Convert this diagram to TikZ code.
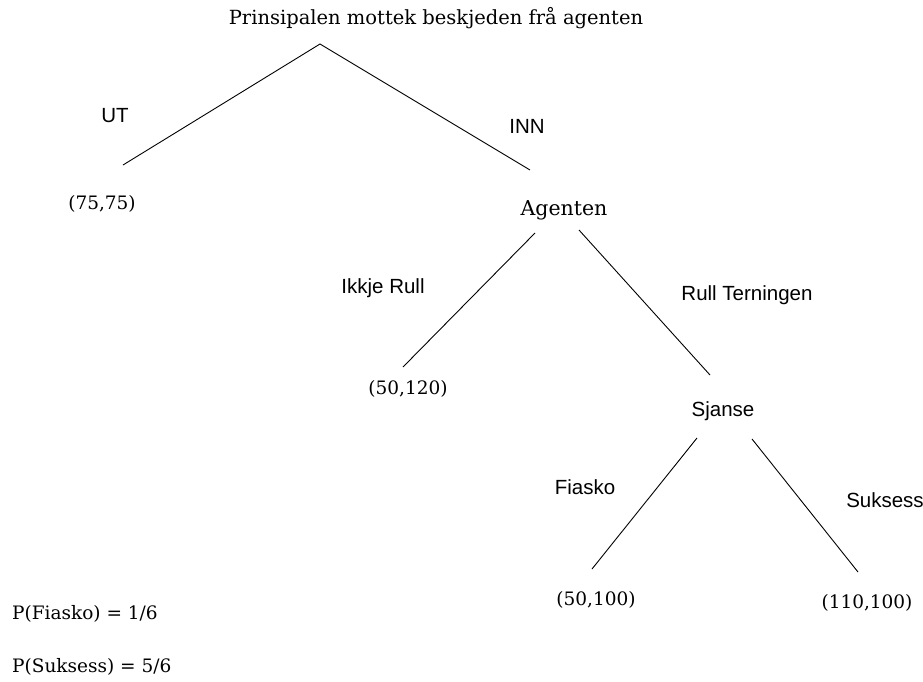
\documentclass[tikz,border=0pt]{standalone}
\usepackage{fontspec}
\newfontfamily\serifF{DejaVu Serif}
\newfontfamily\sansF{Liberation Sans}
\begin{document}
\begin{tikzpicture}[x=1pt,y=-1pt,
  ser/.style={font=\serifF\fontsize{18.5}{22}\selectfont, inner sep=0pt},
  serbig/.style={font=\serifF\fontsize{19.5}{23}\selectfont, inner sep=0pt},
  san/.style={font=\sansF\fontsize{20.5}{24}\selectfont, inner sep=0pt},
  edge/.style={draw=black, line width=0.9pt}]
\useasboundingbox (0,0) rectangle (923,681);
% nodes
\node[serbig] (title) at (436,18) {Prinsipalen mottek beskjeden frå agenten};
\node[san] (ut) at (115,116) {UT};
\node[san] (inn) at (527,126) {INN};
\node[ser] (r1) at (102,204) {(75,75)};
\node[serbig, font=\serifF\fontsize{20.5}{24}\selectfont] (agent) at (564,210) {Agenten};
\node[san] (ikkje) at (383,288) {Ikkje Rull};
\node[san] (rull) at (747,295) {Rull Terningen};
\node[ser] (r2) at (408,389) {(50,120)};
\node[san] (sjanse) at (723,411) {Sjanse};
\node[san] (fiasko) at (585,487) {Fiasko};
\node[san] (suksess) at (885,500) {Suksess};
\node[ser] (r3) at (596,600) {(50,100)};
\node[ser] (r4) at (867,603) {(110,100)};
\node[ser, anchor=west] (pf) at (12,614) {P(Fiasko) = 1/6};
\node[ser, anchor=west] (ps) at (12,667) {P(Suksess) = 5/6};
% connector end points
\coordinate (apex) at (320,44);
\coordinate (utend) at (123,165);
\coordinate (innend) at (530,170);
\coordinate (agl) at (535,233);
\coordinate (agr) at (579,230);
\coordinate (ikend) at (403,367);
\coordinate (rtend) at (710,375);
\coordinate (sjl) at (697,438);
\coordinate (sjr) at (752,439);
\coordinate (fend) at (592,569);
\coordinate (send) at (858,572);
% connectors
\draw[edge] (utend) -- (apex) -- (innend);
\draw[edge] (agl) -- (ikend);
\draw[edge] (agr) -- (rtend);
\draw[edge] (sjl) -- (fend);
\draw[edge] (sjr) -- (send);
\end{tikzpicture}
\end{document}
